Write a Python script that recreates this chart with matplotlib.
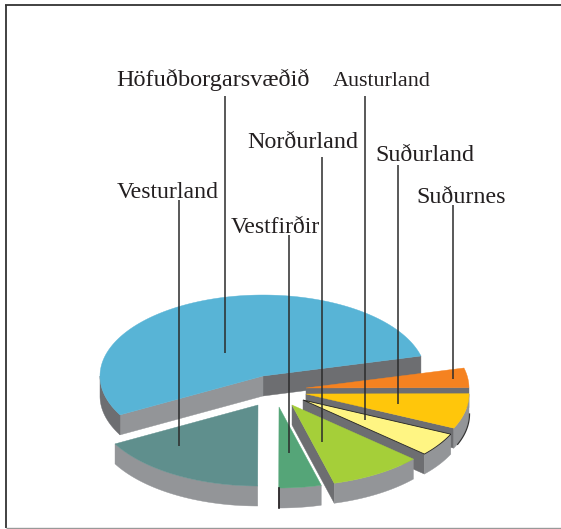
import numpy as np
import matplotlib
matplotlib.use("Agg")
import matplotlib.pyplot as plt
from matplotlib.patches import Polygon

regions = ["Höfuðborgarsvæðið", "Vesturland", "Vestfirðir", "Norðurland",
           "Austurland", "Suðurland", "Suðurnes"]
shares = [54.0, 17.0, 4.2, 9.2, 4.7, 7.0, 3.9]
colors = ["#58b4d6", "#5f8f8d", "#55a578", "#a5cf39", "#fff583", "#ffc60b", "#f58220"]

START_ANGLE = 14.3
RX, RY, DEPTH = 163, 81, 20
DARK, LIGHT = "#6d6e71", "#939598"
# slice apex in figure pixels (y down)
apex = [(263, 376), (258, 405), (279, 407), (292, 405), (303, 400), (306, 394), (306, 388)]
label_x = [116, 117, 231, 247, 333, 375, 416]
label_y = [86, 198, 233, 148, 86, 161, 203]
label_size = [17.5, 17.2, 17.0, 17.3, 15.9, 17.3, 17.3]
leader_x = [225, 179.5, 289.5, 322.5, 365, 398, 453]
leader_top = [96, 200, 235, 157, 96, 165, 205]
leader_end = [353, 446, 453, 442, 420, 404, 379]
side_walls = {0: [("radial1", DARK), ("radial2", LIGHT), ("rim", DARK)],
              1: [("rim", LIGHT)],
              2: [("rim", LIGHT)],
              3: [("radial1", DARK), ("rim", LIGHT)],
              4: [("radial1", DARK), ("rim", LIGHT)],
              5: [("radial1", DARK), ("rim", LIGHT)],
              6: [("radial1", DARK)]}
draw_order = [0, 6, 5, 4, 3, 2, 1]

W, H = 561, 529
fig = plt.figure(figsize=(W / 100, H / 100), dpi=100, facecolor="white")
ax = fig.add_axes([0, 0, 1, 1])
ax.set_xlim(0, W)
ax.set_ylim(H, 0)
ax.axis("off")

edges = START_ANGLE + np.concatenate([[0], np.cumsum(shares) * 360 / sum(shares)])


def rim_pt(i, deg):
    t = np.radians(deg)
    return np.column_stack([apex[i][0] + RX * np.cos(t), apex[i][1] - RY * np.sin(t)])


def wall(pts, color, z):
    poly = np.vstack([pts, (pts + [0, DEPTH])[::-1]])
    ax.add_patch(Polygon(poly, closed=True, fc=color, ec=color, lw=0.3, zorder=z))


z = 1
for i in draw_order:
    a, b = edges[i], edges[i + 1]
    c = np.array([apex[i]], dtype=float)
    for kind, col in side_walls[i]:
        if kind == "radial1":
            wall(np.vstack([c, rim_pt(i, a)]), col, z)
        elif kind == "radial2":
            wall(np.vstack([c, rim_pt(i, b)]), col, z)
        else:
            lo = max(a, 180) if a < 360 and b > 180 else a
            hi = min(b, 360)
            if i == 0:
                lo, hi = 180, b
            wall(rim_pt(i, np.linspace(lo, hi, 60)), col, z)
    top = np.vstack([c, rim_pt(i, np.linspace(a, b, 160))])
    lw, ec = (0.6, "#222222") if regions[i] == "Austurland" else (0.3, colors[i])
    ax.add_patch(Polygon(top, closed=True, fc=colors[i], ec=ec, lw=lw, zorder=z + 0.5))
    z += 1

# thin dark strokes on the slice walls
i = regions.index("Vestfirðir")
ax.plot([apex[i][0]] * 2, [apex[i][1] + RY, apex[i][1] + RY + DEPTH], color="#231f20", lw=1.2, zorder=20)
i = regions.index("Suðurland")
arc = rim_pt(i, np.linspace(338, 360, 30)) + [0.5, DEPTH]
ax.plot(arc[:, 0], arc[:, 1], color="#333333", lw=0.9, zorder=1.2 + draw_order.index(i))

for name, tx, ty, fs, lx, lt, le in zip(regions, label_x, label_y, label_size,
                                        leader_x, leader_top, leader_end):
    ax.plot([lx, lx], [lt, le], color="#2b2b2b", lw=1.1, zorder=30, solid_capstyle="butt")
    ax.text(tx, ty, name, family="Liberation Serif", fontsize=fs, color="#231f20",
            ha="left", va="baseline", zorder=31)

# frame
ax.plot([6, 6], [4.5, 528], color="#333333", lw=1.3, zorder=40, solid_capstyle="butt")
ax.plot([5.5, W], [5, 5], color="#333333", lw=1.3, zorder=40, solid_capstyle="butt")
ax.plot([6, W], [528, 528], color="#999999", lw=1.0, zorder=40, solid_capstyle="butt")

fig.savefig("out.png", dpi=100, facecolor="white")
